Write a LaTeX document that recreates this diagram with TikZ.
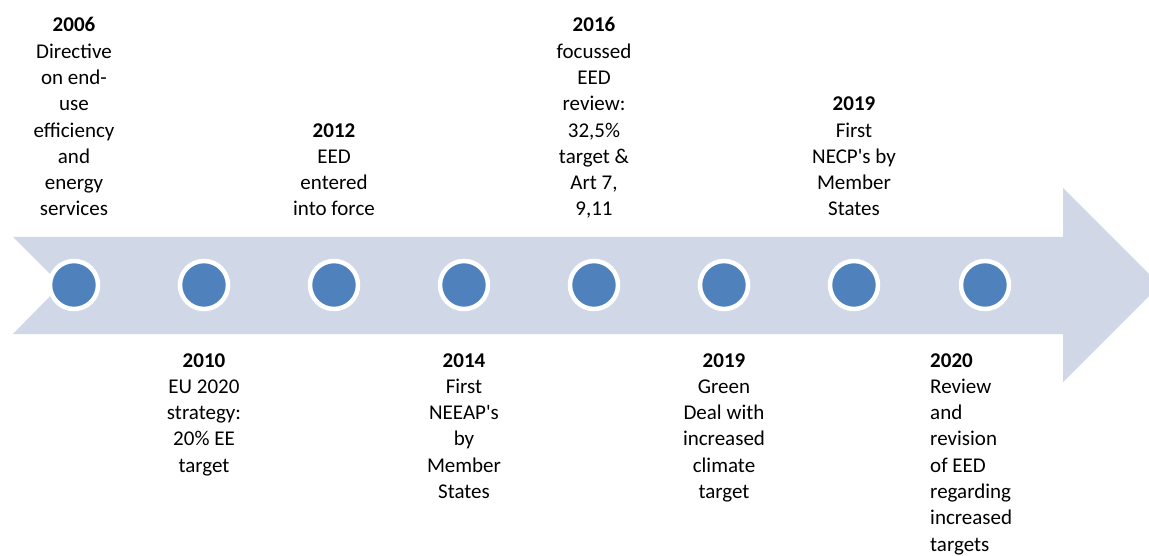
\documentclass[tikz,border=0pt]{standalone}
\usepackage{fontspec}
\setmainfont{Carlito}
\definecolor{arrowfill}{RGB}{208,216,232}
\definecolor{dotblue}{RGB}{79,129,189}
\begin{document}
\begin{tikzpicture}[x=1pt,y=-1pt,
  dot/.style={circle,fill=dotblue,draw=white,line width=4.5pt,minimum size=48pt,inner sep=0pt},
  lbl/.style={align=center,inner sep=0pt,font=\fontsize{21}{26.3}\selectfont,anchor=base},
  lbll/.style={align=left,inner sep=0pt,font=\fontsize{21}{26.3}\selectfont,anchor=base west}]
\useasboundingbox (0,0) rectangle (1149,556);
% arrow
\fill[arrowfill] (13,237) -- (1063,237) -- (1063,188) -- (1160,285) -- (1063,382) -- (1063,334) -- (13,334) -- (61,285) -- cycle;
% dots
\foreach \i/\x in {1/74,2/204,3/334,4/464,5/594,6/724,7/854,8/985}{
  \node[dot] (c\i) at (\x,285) {};
}
% top labels (last baseline at 216)
\node[lbl] (t1) at (74,216) {\textbf{2006}\\Directive\\on end-\\use\\efficiency\\and\\energy\\services};
\node[lbl] (t3) at (334,216) {\textbf{2012}\\EED\\entered\\into force};
\node[lbl] (t5) at (594,216) {\textbf{2016}\\focussed\\EED\\review:\\32,5\%\\target \&\\Art 7,\\9,11};
\node[lbl] (t7) at (854,216) {\textbf{2019}\\First\\NECP\textquotesingle s by\\Member\\States};
% bottom labels (first baseline at 367)
\node[lbl] (t2) at (204,472.2) {\textbf{2010}\\EU 2020\\strategy:\\20\% EE\\target};
\node[lbl] (t4) at (464,498.5) {\textbf{2014}\\First\\NEEAP\textquotesingle s\\by\\Member\\States};
\node[lbl] (t6) at (724,498.5) {\textbf{2019}\\Green\\Deal with\\increased\\climate\\target};
\node[lbll] (t8) at (930,551.1) {\textbf{2020}\\Review\\and\\revision\\of EED\\regarding\\increased\\targets};
\end{tikzpicture}
\end{document}
